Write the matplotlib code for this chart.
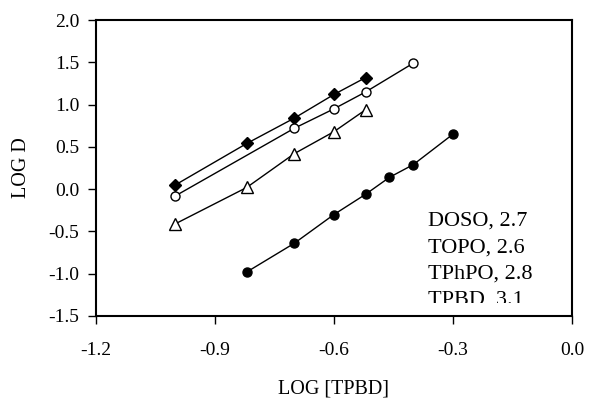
import matplotlib as mpl
mpl.use('Agg')
import matplotlib.pyplot as plt
from matplotlib.patches import Rectangle

plt.rcParams['font.family'] = ['Liberation Serif', 'DejaVu Serif']

# LOG [TPBD] vs LOG D for the four extractants
x_doso = [-1.0, -0.82, -0.70, -0.60, -0.52]
y_doso = [0.05, 0.54, 0.84, 1.12, 1.32]

x_topo = [-1.0, -0.70, -0.60, -0.52, -0.40]
y_topo = [-0.08, 0.72, 0.95, 1.15, 1.49]

x_tphpo = [-1.0, -0.82, -0.70, -0.60, -0.52]
y_tphpo = [-0.41, 0.02, 0.42, 0.68, 0.94]

x_tpbd = [-0.82, -0.70, -0.60, -0.52, -0.46, -0.40, -0.30]
y_tpbd = [-0.98, -0.64, -0.30, -0.06, 0.14, 0.29, 0.65]

labels = ['DOSO, 2.7', 'TOPO, 2.6', 'TPhPO, 2.8', 'TPBD, 3.1']

fig = plt.figure(figsize=(5.89, 4.01), dpi=100)
ax = fig.add_axes([0.163, 0.212, 0.808, 0.738])

lc = dict(color='black', lw=1.0, mec='black', mew=1.0)
ax.plot(x_doso, y_doso, marker='D', ms=6, mfc='black', **lc)
ax.plot(x_topo, y_topo, marker='o', ms=6.5, mfc='white', **lc)
ax.plot(x_tphpo, y_tphpo, marker='^', ms=8, mfc='white', **lc)
ax.plot(x_tpbd, y_tpbd, marker='o', ms=6.5, mfc='black', **lc)

ax.set_xlim(-1.2, 0.0)
ax.set_ylim(-1.5, 2.0)
ax.set_xticks([-1.2, -0.9, -0.6, -0.3, 0.0])
ax.set_xticklabels(['-1.2', '-0.9', '-0.6', '-0.3', '0.0'])
ax.set_yticks([-1.5, -1.0, -0.5, 0.0, 0.5, 1.0, 1.5, 2.0])
ax.set_yticklabels(['-1.5', '-1.0', '-0.5', '0.0', '0.5', '1.0', '1.5', '2.0'])
ax.tick_params(direction='out', length=6, width=1.0, labelsize=14, pad=6)
ax.tick_params(axis='x', pad=13)
for s in ax.spines.values():
    s.set_linewidth(1.5)

ax.set_xlabel('LOG [TPBD]', fontsize=14.5)
ax.set_ylabel('LOG D', fontsize=14.5)
ax.xaxis.set_label_coords(0.5, -0.215)
ax.yaxis.set_label_coords(-0.137, 0.5)

# text block, bottom line cut off like the original
clip = Rectangle((0, 0.044), 1, 1, transform=ax.transAxes)
ys = [0.304, 0.216, 0.128, 0.040]
for lab, yy in zip(labels, ys):
    t = ax.text(0.697, yy, lab, transform=ax.transAxes, fontsize=16,
                va='baseline', ha='left', clip_on=True)
    t.set_clip_path(clip)

plt.savefig('out.png', dpi=100)
